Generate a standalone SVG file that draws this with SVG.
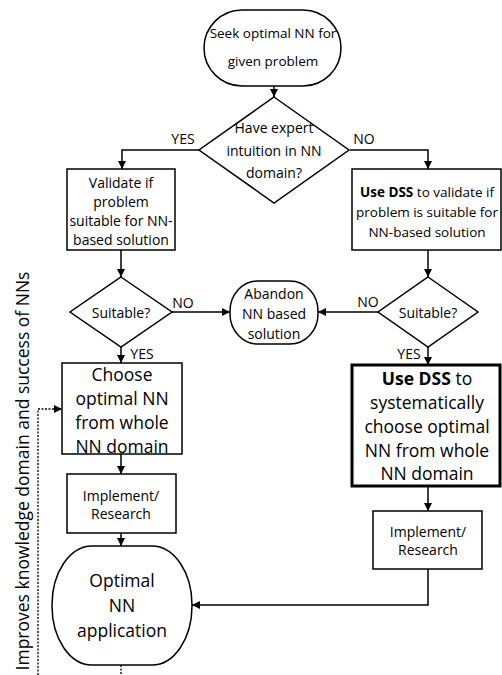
<svg xmlns="http://www.w3.org/2000/svg" width="502" height="675" viewBox="0 0 502 675">
<defs>
<marker id="ah" viewBox="0 0 10 10" refX="10" refY="5" markerWidth="8" markerHeight="8" markerUnits="userSpaceOnUse" orient="auto"><path d="M0,0 L10,5 L0,10 z" fill="#000"/></marker>
<style>
.s{fill:#fff;stroke:#000;stroke-width:1.5}
.t{font-family:"Open Sans","Noto Sans",sans-serif;font-size:14px;fill:#000;text-anchor:middle;dominant-baseline:central}
.b{font-size:17.5px}
.m{font-size:14px}
.n{font-size:13.5px}
.c{fill:none;stroke:#000;stroke-width:1.5}
.d{fill:none;stroke:#000;stroke-width:1.3;stroke-dasharray:2,1.5}
</style>
</defs>
<rect width="502" height="675" fill="#fff"/>
<g id="connectors">
<path class="c" d="M274,86 V97" marker-end="url(#ah)"/>
<path class="c" d="M200,150 H122 V169" marker-end="url(#ah)"/>
<path class="c" d="M350,150 H428 V169" marker-end="url(#ah)"/>
<path class="c" d="M121,250 V277" marker-end="url(#ah)"/>
<path class="c" d="M428,250 V277" marker-end="url(#ah)"/>
<path class="c" d="M172,312 H230" marker-end="url(#ah)"/>
<path class="c" d="M378,312 H318" marker-end="url(#ah)"/>
<path class="c" d="M121,347 V363" marker-end="url(#ah)"/>
<path class="c" d="M428,347 V365" marker-end="url(#ah)"/>
<path class="c" d="M121,454 V474" marker-end="url(#ah)"/>
<path class="c" d="M428,486 V511" marker-end="url(#ah)"/>
<path class="c" d="M121,533 V546" marker-end="url(#ah)"/>
<path class="c" d="M428,569 V605 H192" marker-end="url(#ah)"/>
<path class="d" d="M38,675 V409 H62" marker-end="url(#ah)"/>
<path class="d" d="M121,665 V675"/>
<text class="t" x="183" y="138">YES</text>
<text class="t" x="364" y="138">NO</text>
<text class="t" x="183" y="302">NO</text>
<text class="t" x="368" y="301">NO</text>
<text class="t" x="142" y="353">YES</text>
<text class="t" x="409" y="353">YES</text>
</g>
<g id="start"><rect class="s" x="204" y="10" width="137" height="76" rx="38" ry="38"/>
<text class="t n" x="273" y="33">Seek optimal NN for</text><text class="t n" x="273" y="61">given problem</text></g>
<g id="expert"><polygon class="s" points="274,97 349,150 274,203 199,150"/>
<text class="t" x="274" y="127">Have expert</text><text class="t" x="274" y="150">intuition in NN</text><text class="t" x="274" y="172">domain?</text></g>
<g id="validate"><rect class="s" x="67" y="169" width="108" height="81"/>
<text class="t" x="121" y="182">Validate if</text><text class="t" x="121" y="201">problem</text><text class="t" x="121" y="220">suitable for NN-</text><text class="t" x="121" y="239">based solution</text></g>
<g id="validatedss"><rect class="s" x="352" y="169" width="149" height="81"/>
<text class="t n" x="427" y="192"><tspan font-weight="bold">Use DSS</tspan> to validate if</text><text class="t n" x="427" y="212">problem is suitable for</text><text class="t n" x="427" y="232">NN-based solution</text></g>
<g id="suitable1"><polygon class="s" points="121,277 172,312 121,347 70,312"/>
<text class="t" x="121" y="312">Suitable?</text></g>
<g id="suitable2"><polygon class="s" points="428,277 478,312 428,347 378,312"/>
<text class="t" x="428" y="312">Suitable?</text></g>
<g id="abandon"><rect class="s" x="230" y="281" width="88" height="63" rx="28" ry="30"/>
<text class="t" x="274" y="293">Abandon</text><text class="t" x="274" y="313">NN based</text><text class="t" x="274" y="333">solution</text></g>
<g id="choose"><rect class="s" x="62" y="363" width="120" height="91"/>
<text class="t b" x="122" y="374">Choose</text><text class="t b" x="122" y="398">optimal NN</text><text class="t b" x="122" y="422">from whole</text><text class="t b" x="122" y="446">NN domain</text></g>
<g id="choosedss"><rect x="352" y="365" width="148" height="121" fill="#fff" stroke="#000" stroke-width="3"/>
<text class="t b" x="427" y="378"><tspan font-weight="bold">Use DSS</tspan> to</text><text class="t b" x="427" y="402">systematically</text><text class="t b" x="427" y="426">choose optimal</text><text class="t b" x="427" y="450">NN from whole</text><text class="t b" x="427" y="473">NN domain</text></g>
<g id="impl1"><rect class="s" x="67" y="474" width="109" height="59"/>
<text class="t m" x="121" y="495">Implement/</text><text class="t m" x="121" y="513">Research</text></g>
<g id="impl2"><rect class="s" x="373" y="511" width="109" height="58"/>
<text class="t m" x="428" y="531">Implement/</text><text class="t m" x="428" y="549">Research</text></g>
<g id="optimal"><rect class="s" x="52" y="546" width="140" height="119" rx="40" ry="59"/>
<text class="t b" x="122" y="580">Optimal</text><text class="t b" x="122" y="605">NN</text><text class="t b" x="122" y="630">application</text></g>
<g id="improves"><text class="t b" transform="translate(22,471) rotate(-90)" x="0" y="0">Improves knowledge domain and success of NNs</text></g>
</svg>
